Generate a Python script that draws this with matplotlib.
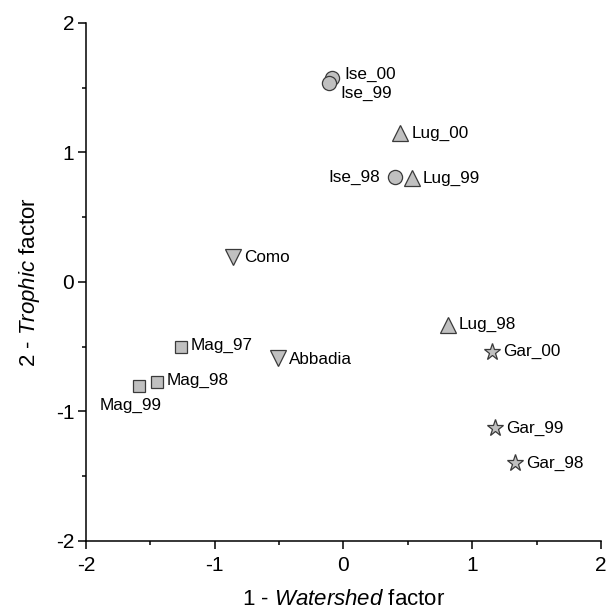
import matplotlib
matplotlib.use("Agg")
import matplotlib.pyplot as plt
from matplotlib.ticker import MultipleLocator

plt.rcParams['font.family'] = ['Liberation Sans', 'DejaVu Sans']
plt.rcParams['mathtext.fontset'] = 'custom'
plt.rcParams['mathtext.rm'] = 'Liberation Sans'
plt.rcParams['mathtext.it'] = 'Liberation Sans:italic'
plt.rcParams['axes.unicode_minus'] = False

# Data
ise_names = ["Ise_00", "Ise_99", "Ise_98"]
ise_x = [-0.09, -0.11, 0.40]
ise_y = [1.575, 1.535, 0.81]

lug_names = ["Lug_00", "Lug_99", "Lug_98"]
lug_x = [0.44, 0.53, 0.81]
lug_y = [1.15, 0.80, -0.33]

como_names = ["Como", "Abbadia"]
como_x = [-0.86, -0.51]
como_y = [0.19, -0.59]

mag_names = ["Mag_97", "Mag_98", "Mag_99"]
mag_x = [-1.26, -1.45, -1.59]
mag_y = [-0.50, -0.77, -0.80]

gar_names = ["Gar_00", "Gar_99", "Gar_98"]
gar_x = [1.15, 1.18, 1.33]
gar_y = [-0.54, -1.13, -1.40]

fig = plt.figure(figsize=(6.06, 6.16), dpi=100)
ax = fig.add_axes([0.1419, 0.1218, 0.8498, 0.8409])

fc = "#c0c0c0"
ec = "#3a3a3a"
kw = dict(linestyle="none", markerfacecolor=fc, markeredgecolor=ec, markeredgewidth=0.9)
ax.plot(ise_x, ise_y, marker="o", markersize=10.2, **kw)
ax.plot(lug_x, lug_y, marker="^", markersize=11.5, **kw)
ax.plot(como_x, como_y, marker="v", markersize=11.5, **kw)
ax.plot(mag_x, mag_y, marker="s", markersize=9, **kw)
ax.plot(gar_x, gar_y, marker="*", markersize=12.5, **kw)

fs = 12.3
def lab(names, xs, ys, offsets):
    for n, x, y, (dx, dy, ha, va) in zip(names, xs, ys, offsets):
        ax.annotate(n, (x, y), xytext=(dx, dy), textcoords="offset points",
                    ha=ha, va=va, fontsize=fs)

lab(ise_names, ise_x, ise_y, [(9, 2.5, "left", "center"), (8.3, -7.6, "left", "center"), (-11, 0, "right", "center")])
lab(lug_names, lug_x, lug_y, [(8, 0, "left", "center"), (8, 0, "left", "center"), (8, 0, "left", "center")])
lab(como_names, como_x, como_y, [(8, 0, "left", "center"), (8, -1, "left", "center")])
lab(mag_names, mag_x, mag_y, [(7, 1, "left", "center"), (7, 1, "left", "center"), (-6, -14, "center", "center")])
lab(gar_names, gar_x, gar_y, [(8, 0, "left", "center"), (8, 0, "left", "center"), (8, 0, "left", "center")])

ax.set_xlim(-2, 2)
ax.set_ylim(-2, 2)
ax.xaxis.set_major_locator(MultipleLocator(1))
ax.yaxis.set_major_locator(MultipleLocator(1))
ax.xaxis.set_minor_locator(MultipleLocator(0.5))
ax.yaxis.set_minor_locator(MultipleLocator(0.5))
ax.spines["top"].set_visible(False)
ax.spines["right"].set_visible(False)
for s in ("left", "bottom"):
    ax.spines[s].set_linewidth(1.1)
ax.tick_params(which="major", direction="out", length=6, width=1.1, labelsize=15)
ax.tick_params(which="minor", direction="out", length=3.2, width=1.1)
ax.tick_params(axis="x", which="major", pad=5)
ax.tick_params(axis="y", which="major", pad=2.5)

ax.set_xlabel("1 - $\\it{Watershed}$ factor", fontsize=16, labelpad=10)
ax.set_ylabel("2 - $\\it{Trophic}$ factor", fontsize=16, labelpad=10)

fig.savefig("out.png", dpi=100)
